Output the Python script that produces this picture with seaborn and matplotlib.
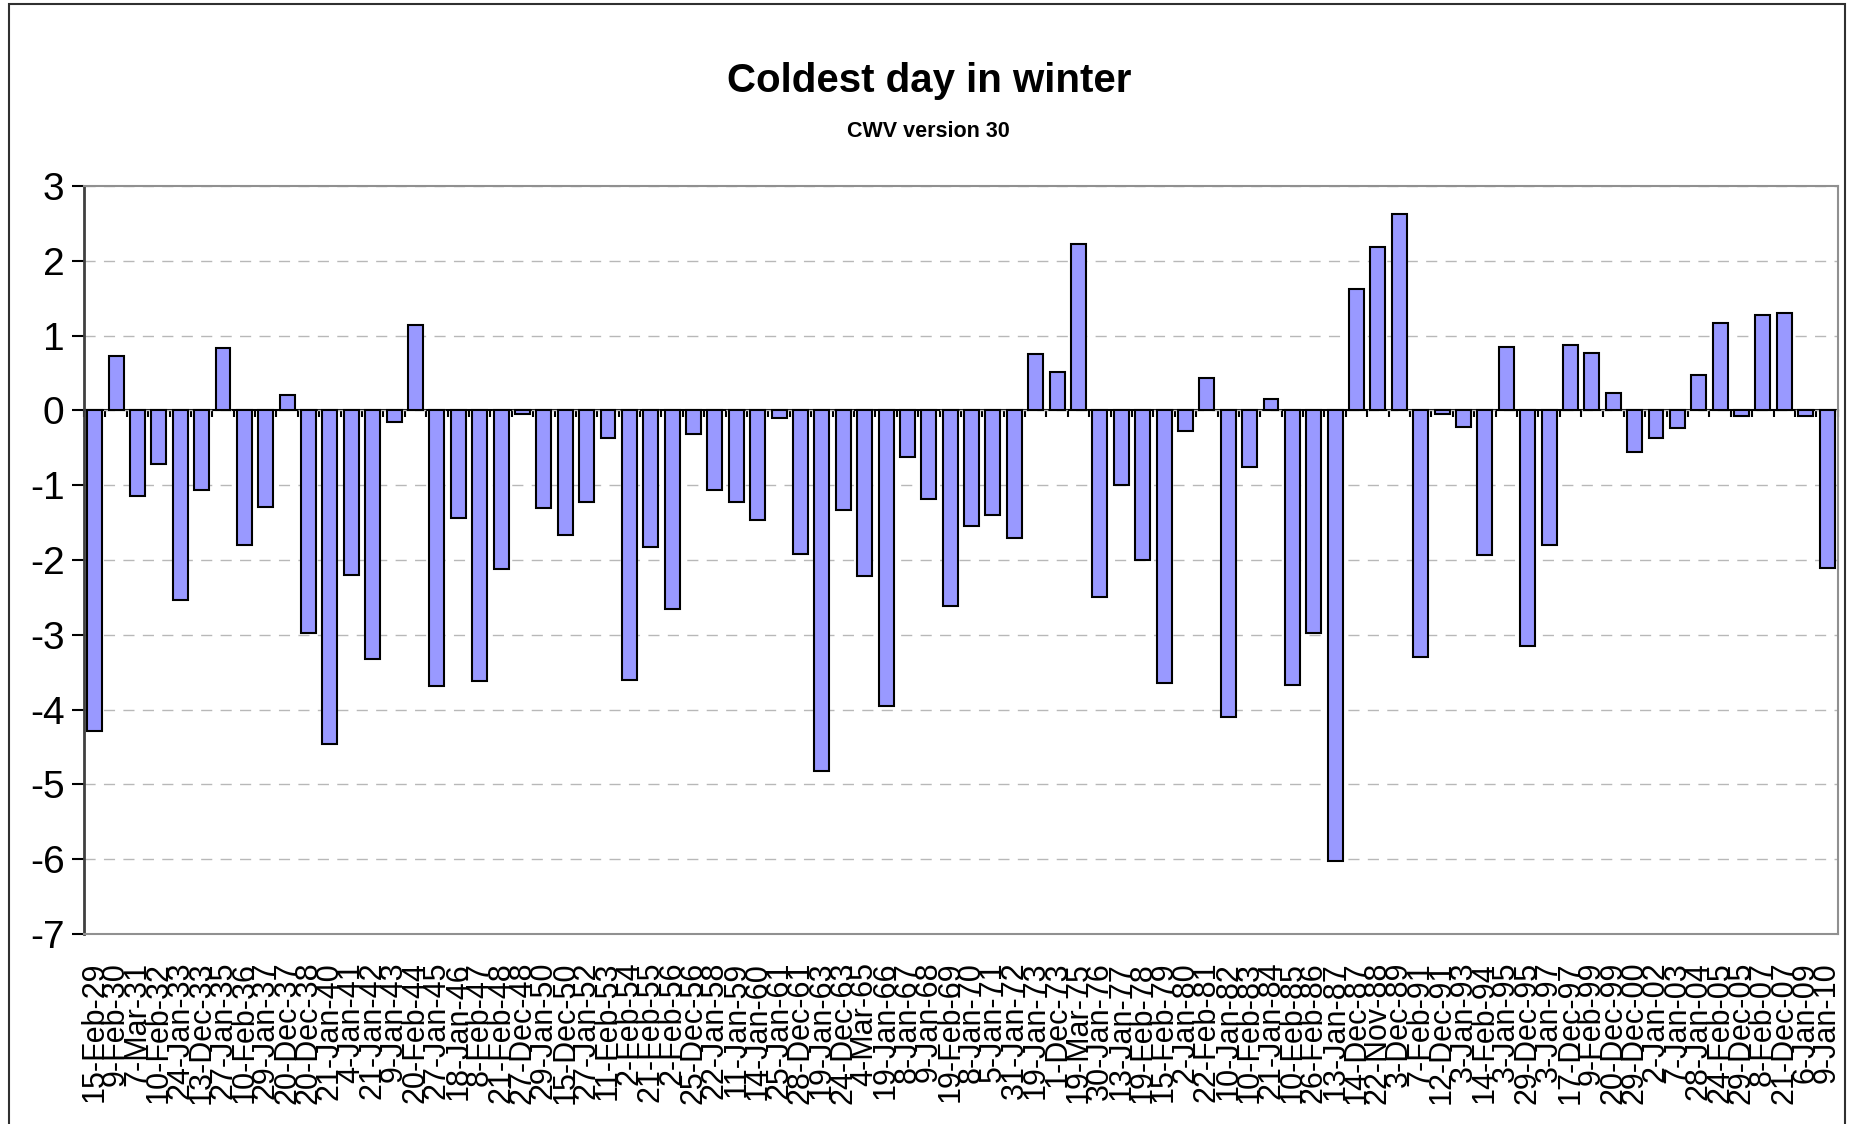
import matplotlib
matplotlib.use('Agg')
import matplotlib.pyplot as plt
import matplotlib.patches as mpatches
import seaborn as sns
import numpy as np
import pandas as pd

# coldest day of each winter, 1928/29 .. 2009/10
dates = [
    "15-Feb-29", "9-Feb-30", "7-Mar-31", "10-Feb-32", "24-Jan-33", "13-Dec-33", "27-Jan-35", "10-Feb-36", "29-Jan-37", "20-Dec-37",
    "20-Dec-38", "21-Jan-40", "4-Jan-41", "21-Jan-42", "9-Jan-43", "20-Feb-44", "27-Jan-45", "18-Jan-46", "8-Feb-47", "21-Feb-48",
    "27-Dec-48", "29-Jan-50", "15-Dec-50", "27-Jan-52", "11-Feb-53", "2-Feb-54", "21-Feb-55", "2-Feb-56", "25-Dec-56", "22-Jan-58",
    "11-Jan-59", "14-Jan-60", "25-Jan-61", "28-Dec-61", "19-Jan-63", "24-Dec-63", "4-Mar-65", "19-Jan-66", "8-Jan-67", "9-Jan-68",
    "19-Feb-69", "8-Jan-70", "5-Jan-71", "31-Jan-72", "19-Jan-73", "1-Dec-73", "19-Mar-75", "30-Jan-76", "13-Jan-77", "19-Feb-78",
    "15-Feb-79", "2-Jan-80", "22-Feb-81", "10-Jan-82", "10-Feb-83", "21-Jan-84", "10-Feb-85", "26-Feb-86", "13-Jan-87", "14-Dec-87",
    "22-Nov-88", "3-Dec-89", "7-Feb-91", "12-Dec-91", "3-Jan-93", "14-Feb-94", "3-Jan-95", "29-Dec-95", "3-Jan-97", "17-Dec-97",
    "9-Feb-99", "20-Dec-99", "29-Dec-00", "2-Jan-02", "7-Jan-03", "28-Jan-04", "24-Feb-05", "29-Dec-05", "8-Feb-07", "21-Dec-07",
    "6-Jan-09", "9-Jan-10",
]

cwv = [
    -4.29, 0.73, -1.14, -0.71, -2.54, -1.06, 0.84, -1.80, -1.29, 0.20,
    -2.97, -4.46, -2.20, -3.32, -0.15, 1.14, -3.69, -1.44, -3.62, -2.12,
    -0.05, -1.30, -1.67, -1.23, -0.37, -3.60, -1.82, -2.65, -0.32, -1.07,
    -1.23, -1.47, -0.10, -1.92, -4.82, -1.33, -2.22, -3.95, -0.62, -1.18,
    -2.62, -1.55, -1.40, -1.70, 0.75, 0.52, 2.22, -2.50, -1.00, -2.00,
    -3.65, -0.28, 0.43, -4.10, -0.75, 0.15, -3.67, -2.97, -6.02, 1.62,
    2.18, 2.62, -3.30, -0.05, -0.22, -1.93, 0.85, -3.15, -1.80, 0.87,
    0.77, 0.23, -0.55, -0.37, -0.23, 0.48, 1.17, -0.07, 1.28, 1.30,
    -0.07, -2.10,
]

yticks = list(range(-7, 4))

sns.set_style('white')
plt.rcParams['font.family'] = ['Liberation Sans', 'DejaVu Sans']
plt.rcParams['text.color'] = 'black'
plt.rcParams['xtick.color'] = 'black'
plt.rcParams['ytick.color'] = 'black'

df = pd.DataFrame({'date': dates, 'cwv': cwv})

fig = plt.figure(figsize=(18.5, 11.24), dpi=100)
ax = fig.add_axes([0.0454, 0.169, 0.948, 0.6655])

sns.barplot(data=df, x='date', y='cwv', order=dates, color='#9999ff',
            saturation=1, edgecolor='black', linewidth=1.5, width=0.7,
            ax=ax, zorder=3)

ax.set_ylim(-7, 3)
ax.set_xlim(-0.5, len(dates) - 0.5)
ax.set_yticks(yticks)
ax.set_yticklabels([str(v) for v in yticks], fontsize=28)
ax.set_xlabel('')
ax.set_ylabel('')

ax.set_xticks(range(len(dates)))
ax.set_xticklabels(dates, rotation=90, fontsize=22, va='top', ha='center')
ax.tick_params(axis='x', length=0, pad=20)
ax.tick_params(axis='y', direction='out', length=9, width=1.5,
               color='black', left=True, pad=5)

ax.yaxis.grid(True, linestyle=(0, (8, 6)), color='#b8b8b8', linewidth=1, zorder=0)
ax.xaxis.grid(False)

for side in ['top', 'right', 'bottom']:
    ax.spines[side].set_color('#909090')
    ax.spines[side].set_linewidth(1.5)
ax.spines['left'].set_color('#404040')
ax.spines['left'].set_linewidth(2)

# the zero line with small marks between categories
zero = ax.secondary_xaxis(0.7)
zero.set_xticks(np.arange(len(dates) + 1) - 0.5, labels=[])
zero.tick_params(direction='in', length=5, width=1.5, color='black')
zero.spines['top'].set_color('black')
zero.spines['top'].set_linewidth(1.5)

fig.text(0.502, 0.918, 'Coldest day in winter', ha='center', va='baseline',
         fontsize=29, fontweight='bold', color='black')
fig.text(0.502, 0.878, 'CWV version 30', ha='center', va='baseline',
         fontsize=15.5, fontweight='bold', color='black')

# outer chart frame
fig.patches.append(mpatches.Rectangle((9 / 1850, -0.05), 1836 / 1850, 1.05 - 4 / 1124,
                                      transform=fig.transFigure, fill=False,
                                      edgecolor='#303030', linewidth=1.5))

fig.savefig('out.png', dpi=100)
